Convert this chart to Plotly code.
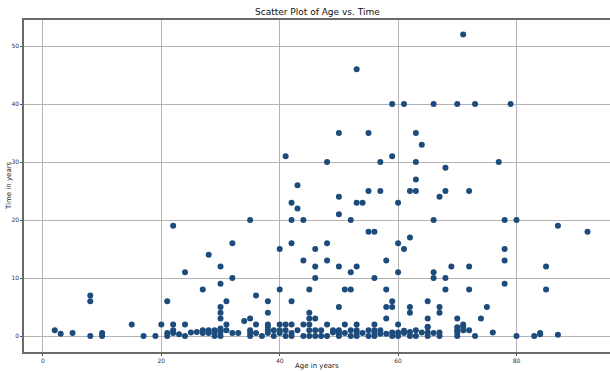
import plotly.graph_objects as go

# (age, time) pairs
age = [
    71, 53,
    59, 61, 66, 70, 73, 79,
    50, 55, 63, 64,
    41, 59,
    48, 57, 63, 77,
    68,
    63, 43,
    55, 57, 62, 63, 68, 72,
    50, 67,
    42, 53, 54, 60,
    43, 50,
    35, 42, 44, 52, 66, 78, 80,
    22, 87,
    55, 56, 92,
    62,
    32, 42, 48, 60,
    40, 46, 61, 78,
    28,
    44, 48, 58, 78,
    30, 46, 50, 53, 69, 72, 85,
    24, 52, 60, 66,
    32, 46, 56, 66, 68,
    30, 78,
    27, 40, 45, 51, 52, 58, 68, 72, 85,
    8, 36,
    8, 21, 31, 38, 42, 59, 65,
    30, 50, 58, 59, 62, 67, 75,
    30, 38, 45, 62, 67,
    30, 35, 45, 46, 58, 65, 70, 74,
    34,
    15, 20, 22, 24, 31, 36, 38, 40, 41, 42, 44, 45, 48, 51, 53, 56, 60, 71,
    38, 71, 65, 30, 65, 70,
    2, 22, 27, 28, 29, 30, 31, 35, 38, 39, 40, 41, 43, 45, 46, 47, 49, 50,
    52, 53, 55, 56, 57, 61, 63, 70, 71, 72,
    3, 5, 10, 21, 22, 23, 25, 26, 27, 28, 29, 30, 32, 33, 35, 36, 38, 40,
    42, 50, 51, 54, 56, 57, 59, 60, 62, 64, 65, 67, 70, 76, 84, 84, 87,
    49, 53, 58, 61, 66,
    8, 10, 17, 19, 21, 24, 29, 30, 35, 37, 39, 41, 42, 44, 45, 46, 47, 48,
    50, 52, 53, 55, 56, 59, 60, 62, 63, 65, 67, 70, 73, 80, 83,
]
time = [
    52, 46,
    40, 40, 40, 40, 40, 40,
    35, 35, 35, 33,
    31, 31,
    30, 30, 30, 30,
    29,
    27, 26,
    25, 25, 25, 25, 25, 25,
    24, 24,
    23, 23, 23, 23,
    22, 21,
    20, 20, 20, 20, 20, 20, 20,
    19, 19,
    18, 18, 18,
    17,
    16, 16, 16, 16,
    15, 15, 15, 15,
    14,
    13, 13, 13, 13,
    12, 12, 12, 12, 12, 12, 12,
    11, 11, 11, 11,
    10, 10, 10, 10, 10,
    9, 9,
    8, 8, 8, 8, 8, 8, 8, 8, 8,
    7, 7,
    6, 6, 6, 6, 6, 6, 6,
    5, 5, 5, 5, 5, 5, 5,
    4, 4, 4, 4, 4,
    3, 3, 3, 3, 3, 3, 3, 3,
    2.6,
    2, 2, 2, 2, 2, 2, 2, 2, 2, 2, 2, 2, 2, 2, 2, 2, 2, 2,
    1.6, 1.6, 1.6, 1.3, 1.5, 1.5,
    1, 1, 1, 1, 1, 1, 1, 1, 1, 1, 1, 1, 1, 1, 1, 1, 1, 1,
    1, 1, 1, 1, 1, 0.9, 1, 1, 1, 1,
    0.4, 0.5, 0.5, 0.5, 0.5, 0.3, 0.6, 0.7, 0.5, 0.5, 0.5, 0.7, 0.5, 0.5, 0.5, 0.5, 0.5, 0.5,
    0.5, 0.5, 0.5, 0.5, 0.5, 0.4, 0.6, 0.6, 0.7, 0.6, 0.6, 0.6, 0.6, 0.6, 0.5, 0.3, 0.2,
    0.6, 0.5, 0.4, 0.5, 0.5,
    0, 0, 0, 0, 0, 0, 0, 0, 0, 0, 0, 0, 0, 0, 0, 0, 0, 0,
    0, 0, 0, 0, 0, 0, 0, 0, 0, 0, 0, 0, 0, 0, 0, 0, 0,
]

x_ticks = [0, 20, 40, 60, 80]
y_ticks = [0, 10, 20, 30, 40, 50]

W, H = 610, 372
ML, MR, MT, MB = 24, 0, 20, 20

fig = go.Figure(go.Scatter(
    x=age, y=time, mode="markers",
    marker=dict(color="#1c4b7c", size=6, line=dict(width=0)),
))

axis_common = dict(
    automargin=False,
    showgrid=True, gridcolor="#b4b4b4", gridwidth=1,
    showline=True, linecolor="#6a6a6a", linewidth=1.5, mirror=True,
    ticks="outside", ticklen=2, tickcolor="#555", tickwidth=1,
    tickfont=dict(size=6, color="#333", family="DejaVu Sans"),
    zeroline=False,
)

fig.update_xaxes(range=[-3.2, 95.8], tickvals=x_ticks, **axis_common)
fig.update_yaxes(range=[-2.76, 54.5], tickvals=y_ticks, **axis_common)

fig.update_layout(
    width=W, height=H,
    margin=dict(l=ML, r=MR, t=MT, b=MB),
    paper_bgcolor="white", plot_bgcolor="white",
    showlegend=False,
    annotations=[
        dict(text="Scatter Plot of Age vs. Time", xref="paper", yref="paper",
             x=0.5, y=1 + 8 / (H - MT - MB), xanchor="center", yanchor="middle",
             showarrow=False, font=dict(size=9, color="#111", family="DejaVu Sans")),
        dict(text="Age in years", xref="paper", yref="paper",
             x=0.5, y=-(366 - (H - MB)) / (H - MT - MB), xanchor="center", yanchor="middle",
             showarrow=False, font=dict(size=7, color="#222", family="DejaVu Sans")),
        dict(text="Time in years", xref="paper", yref="paper", textangle=-90,
             x=-(ML - 9) / (W - ML - MR), y=0.5, xanchor="center", yanchor="middle",
             showarrow=False, font=dict(size=7, color="#222", family="DejaVu Sans")),
    ],
)

fig.write_html("out.html", config={"displayModeBar": False},
               post_script="document.body.style.margin='0';document.body.style.overflow='hidden';")
